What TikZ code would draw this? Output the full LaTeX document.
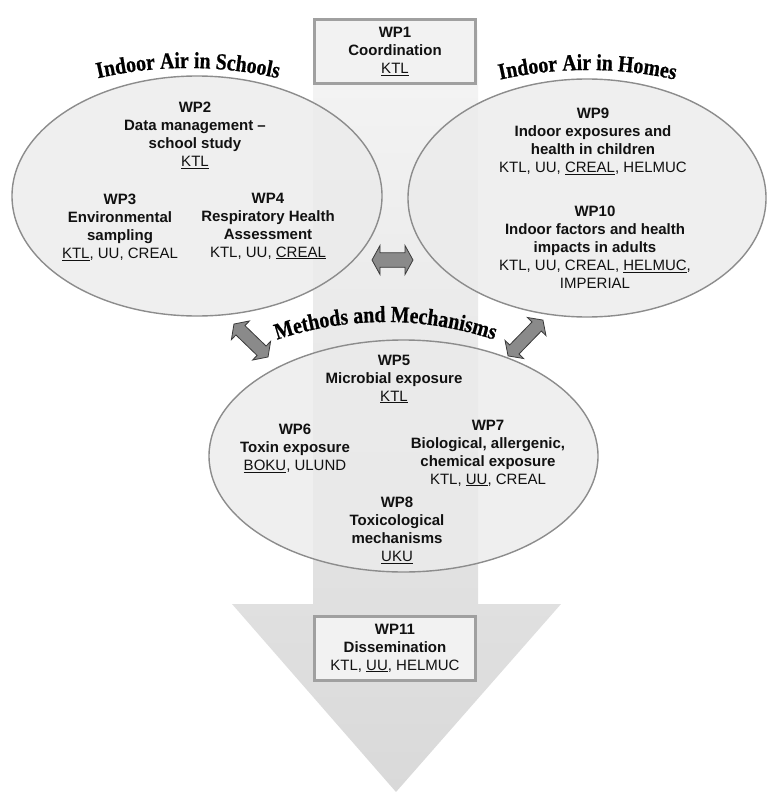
\documentclass[tikz,border=0pt]{standalone}
\usepackage{fontspec}
\setmainfont{Liberation Sans}
\newfontfamily\titlefont{Liberation Serif}[FakeStretch=0.86,FakeBold=0.6]
\usetikzlibrary{decorations.text,shapes.geometric}
\definecolor{boxfill}{HTML}{F2F2F2}
\definecolor{boxedge}{HTML}{A0A0A0}
\definecolor{ellfill}{HTML}{EBEBEB}
\definecolor{elledge}{HTML}{8C8C8C}
\definecolor{arrfill}{HTML}{8A8A8A}
\definecolor{arredge}{HTML}{3A3A3A}
\definecolor{bigtop}{HTML}{F5F5F5}
\definecolor{bigbot}{HTML}{D9D9D9}
\definecolor{txt}{HTML}{111111}
\begin{document}
\begin{tikzpicture}[x=1pt,y=1pt,
  wptext/.style={align=center,inner sep=0pt,text=txt,font=\fontsize{15}{18}\selectfont},
  wpbox/.style={wptext,draw=boxedge,line width=3pt,fill=boxfill,minimum width=161,minimum height=63},
  group/.style={ellipse,draw=elledge,line width=1.4pt,fill=ellfill,fill opacity=0.8,inner sep=0pt},
  titlepath/.style={decorate,decoration={text along path,text align=center,text={|\titlefont\bfseries\fontsize{23}{23}\selectfont|#1}}},
  arrowshape/.style={fill=arrfill,draw=arredge,line width=0.8pt,line join=miter},
  pics/dblarrow/.style args={#1/#2/#3}{code={
    \draw[arrowshape] (-#1,0) -- (-#1+#2,#3) -- (-#1+#2,#3/2) -- (#1-#2,#3/2) -- (#1-#2,#3) -- (#1,0)
      -- (#1-#2,-#3) -- (#1-#2,-#3/2) -- (-#1+#2,-#3/2) -- (-#1+#2,-#3) -- cycle;
  }}]
\useasboundingbox (0,0) rectangle (768,-792);

% big downward arrow
\shade[top color=bigtop,bottom color=bigbot]
  (313,-30) -- (478,-30) -- (478,-604) -- (561,-604) -- (396,-792) -- (232,-604) -- (313,-604) -- cycle;

% groups
\node[group,minimum width=370,minimum height=240] (schools) at (197,-196) {};
\node[group,minimum width=358,minimum height=238] (homes) at (587,-198) {};
\node[group,minimum width=389,minimum height=232] (methods) at (403.5,-456) {};

% boxes
\node[wpbox] (wp1) at (395,-51.5) {\textbf{WP1}\\\textbf{Coordination}\\\underline{KTL}};
\node[wpbox,minimum height=64] (wp11) at (395,-648) {\textbf{WP11}\\\textbf{Dissemination}\\KTL, \underline{UU}, HELMUC};

% work packages
\node[wptext] (wp2) at (195,-135.5) {\textbf{WP2}\\\textbf{Data management –}\\\textbf{school study}\\\underline{KTL}};
\node[wptext] (wp3) at (120,-227.5) {\textbf{WP3}\\\textbf{Environmental}\\\textbf{sampling}\\\underline{KTL}, UU, CREAL};
\node[wptext] (wp4) at (268,-226) {\textbf{WP4}\\\textbf{Respiratory Health}\\\textbf{Assessment}\\KTL, UU, \underline{CREAL}};
\node[wptext] (wp9) at (593,-141) {\textbf{WP9}\\\textbf{Indoor exposures and}\\\textbf{health in children}\\KTL, UU, \underline{CREAL}, HELMUC};
\node[wptext] (wp10) at (595,-247) {\textbf{WP10}\\\textbf{Indoor factors and health}\\\textbf{impacts in adults}\\KTL, UU, CREAL, \underline{HELMUC},\\IMPERIAL};
\node[wptext] (wp5) at (394,-379) {\textbf{WP5}\\\textbf{Microbial exposure}\\\underline{KTL}};
\node[wptext] (wp6) at (295,-448) {\textbf{WP6}\\\textbf{Toxin exposure}\\\underline{BOKU}, ULUND};
\node[wptext] (wp7) at (488,-453) {\textbf{WP7}\\\textbf{Biological, allergenic,}\\\textbf{chemical exposure}\\KTL, \underline{UU}, CREAL};
\node[wptext] (wp8) at (397,-530) {\textbf{WP8}\\\textbf{Toxicological}\\\textbf{mechanisms}\\\underline{UKU}};

% arched titles
\path[titlepath={Indoor Air in Schools}] (188,-468) ++(115:400) arc[start angle=115,end angle=65,radius=400];
\path[titlepath={Indoor Air in Homes}] (587.5,-470) ++(115:400) arc[start angle=115,end angle=65,radius=400];
\path[titlepath={Methods and Mechanisms}] (385.5,-662) ++(118:340) arc[start angle=118,end angle=62,radius=340];

% double arrows
\pic at (392.5,-260) {dblarrow=20.5/8/14.5};
\pic[rotate=-44] at (251,-340.5) {dblarrow=23.7/9/13};
\pic[rotate=45.8] at (525.5,-338) {dblarrow=25/9/13};
\end{tikzpicture}
\end{document}
